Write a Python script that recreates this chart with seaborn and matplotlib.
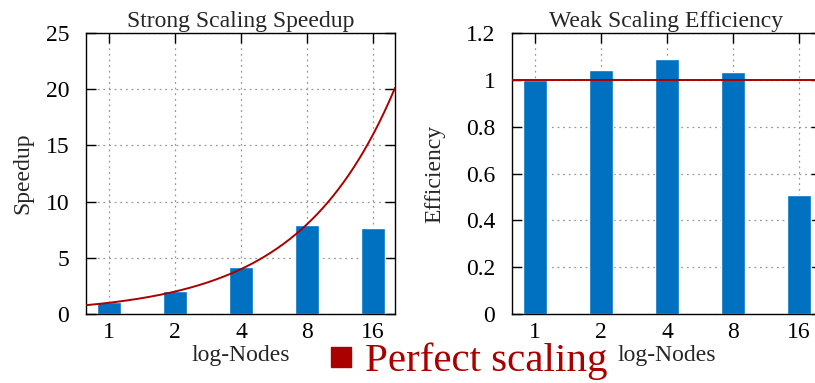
import numpy as np
import matplotlib
matplotlib.use("Agg")
import matplotlib.pyplot as plt
import seaborn as sns
from matplotlib.lines import Line2D

# data
nodes = ["1", "2", "4", "8", "16"]
speedup = [1.04, 2.04, 4.18, 7.88, 7.64]
efficiency = [1.00, 1.04, 1.088, 1.034, 0.51]
speedup_ticks = [0, 5, 10, 15, 20, 25]
eff_ticks = [0, 0.2, 0.4, 0.6, 0.8, 1.0, 1.2]
eff_ticklabels = ["0", "0.2", "0.4", "0.6", "0.8", "1", "1.2"]

bar_color = "#0070c0"
red = "#aa0000"
fs = 17

sns.set_theme(style="ticks")
plt.rcParams["font.family"] = ["Liberation Serif", "DejaVu Serif"]
plt.rcParams["axes.edgecolor"] = "black"
plt.rcParams["axes.linewidth"] = 1.0

fig = plt.figure(figsize=(8.15, 3.83), dpi=100)
W, H = 815, 383
ax1 = fig.add_axes([86 / W, (H - 314) / H, 309 / W, 281 / H])
ax2 = fig.add_axes([512 / W, (H - 314) / H, 309 / W, 281 / H])

xlim = (-0.35, 4.33)


def style_axes(ax):
    ax.set_xlim(*xlim)
    ax.set_axisbelow(True)
    ax.grid(True, linestyle=(0, (1.5, 3)), color="#999999", linewidth=0.9)
    ax.tick_params(direction="in", length=7, width=1, top=True, right=True,
                   labelsize=fs, colors="black")
    ax.tick_params(axis="x", pad=6)
    ax.tick_params(axis="y", pad=12)
    for s in ax.spines.values():
        s.set_visible(True)
        s.set_color("black")


# strong scaling
sns.barplot(x=nodes, y=speedup, ax=ax1, color=bar_color, saturation=1,
            width=0.36, zorder=2)
xs = np.linspace(xlim[0], xlim[1], 300)
ax1.plot(xs, 2.0 ** xs, color=red, linewidth=1.4, zorder=3)
ax1.set_ylim(0, 25)
ax1.set_yticks(speedup_ticks)
style_axes(ax1)
ax1.set_title("Strong Scaling Speedup", fontsize=fs, pad=4)
ax1.set_ylabel("Speedup", fontsize=fs, labelpad=9)
ax1.set_xlabel("log-Nodes", fontsize=fs, labelpad=1)

# weak scaling
sns.barplot(x=nodes, y=efficiency, ax=ax2, color=bar_color, saturation=1,
            width=0.36, zorder=2)
ax2.axhline(1.0, color=red, linewidth=1.4, zorder=3)
ax2.set_ylim(0, 1.2)
ax2.set_yticks(eff_ticks)
ax2.set_yticklabels(eff_ticklabels)
style_axes(ax2)
ax2.set_title("Weak Scaling Efficiency", fontsize=fs, pad=4)
ax2.set_ylabel("Efficiency", fontsize=fs, labelpad=15)
ax2.set_xlabel("log-Nodes", fontsize=fs, labelpad=1)

handle = Line2D([], [], marker="s", linestyle="none", color=red, markersize=15)
leg = fig.legend([handle], ["Perfect scaling"], loc="center",
                 bbox_to_anchor=(466 / W, 1 - 361 / H), frameon=False,
                 fontsize=29.5, handletextpad=0.2, borderpad=0, handlelength=0.8)
for t in leg.get_texts():
    t.set_color(red)

fig.savefig("out.png", dpi=100)
